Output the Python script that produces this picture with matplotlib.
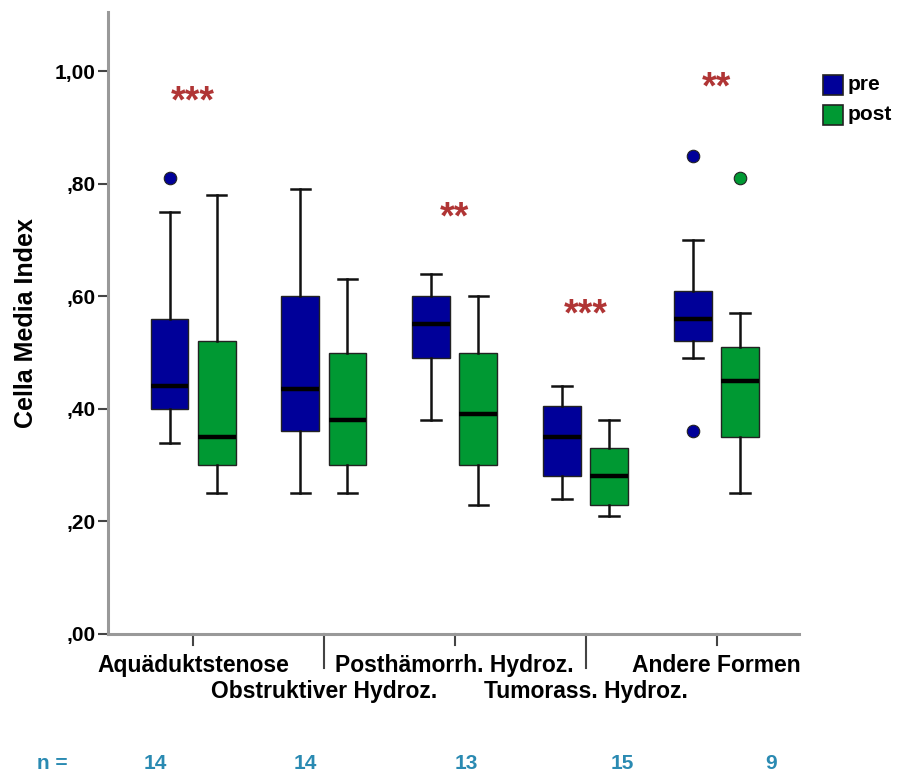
import matplotlib
matplotlib.use("Agg")
import matplotlib.pyplot as plt
from matplotlib import font_manager
from matplotlib.patches import Rectangle

# Schriften
names = {f.name for f in font_manager.fontManager.ttflist}
narrow = "Liberation Sans Narrow" if "Liberation Sans Narrow" in names else "Liberation Sans"
plt.rcParams['font.family'] = ['Liberation Sans', 'DejaVu Sans']

# Daten
gruppen = ["Aquäduktstenose", "Obstruktiver Hydroz.", "Posthämorrh. Hydroz.",
           "Tumorass. Hydroz.", "Andere Formen"]
n_werte = [14, 14, 13, 15, 9]

pre_whislo = [0.34, 0.25, 0.38, 0.24, 0.49]
pre_q1 = [0.40, 0.36, 0.49, 0.28, 0.52]
pre_med = [0.44, 0.435, 0.55, 0.35, 0.56]
pre_q3 = [0.56, 0.60, 0.60, 0.405, 0.61]
pre_whishi = [0.75, 0.79, 0.64, 0.44, 0.70]
pre_ausreisser = [[0.81], [], [], [], [0.85, 0.36]]

post_whislo = [0.25, 0.25, 0.23, 0.21, 0.25]
post_q1 = [0.30, 0.30, 0.30, 0.23, 0.35]
post_med = [0.35, 0.38, 0.39, 0.28, 0.45]
post_q3 = [0.52, 0.50, 0.50, 0.33, 0.51]
post_whishi = [0.78, 0.63, 0.60, 0.38, 0.57]
post_ausreisser = [[], [], [], [], [0.81]]

sterne = ["***", "", "**", "***", "**"]
stern_y = [0.945, 0, 0.738, 0.565, 0.97]

farbe_pre = "#000099"
farbe_post = "#009933"

def stats(lo, q1, med, q3, hi, fl):
    return [dict(whislo=lo[i], q1=q1[i], med=med[i], q3=q3[i], whishi=hi[i], fliers=fl[i])
            for i in range(len(lo))]

W, H = 898, 776
fig = plt.figure(figsize=(W / 100, H / 100), dpi=100)
ax = fig.add_axes([108 / W, 1 - 634 / H, (799 - 108) / W, (634 - 12) / H])

pos = list(range(1, 6))
for st, off, col in [(stats(pre_whislo, pre_q1, pre_med, pre_q3, pre_whishi, pre_ausreisser), -0.18, farbe_pre),
                     (stats(post_whislo, post_q1, post_med, post_q3, post_whishi, post_ausreisser), 0.18, farbe_post)]:
    ax.bxp(st, positions=[p + off for p in pos], widths=0.29, capwidths=0.15,
           patch_artist=True, manage_ticks=False,
           boxprops=dict(facecolor=col, edgecolor="#222222", linewidth=1.0),
           medianprops=dict(color="black", linewidth=3.2, solid_capstyle="butt"),
           whiskerprops=dict(color="#111111", linewidth=1.8),
           capprops=dict(color="#111111", linewidth=1.8),
           flierprops=dict(marker="o", markersize=9, markerfacecolor=col,
                           markeredgecolor="#222222", markeredgewidth=0.8))

for i, s in enumerate(sterne):
    if s:
        ax.text(pos[i], stern_y[i], s, ha="center", va="center", color="#b03535",
                fontsize=27, fontweight="bold")

ax.set_xlim(0.35, 5.63)
ax.set_ylim(0, 1.105)
ax.set_yticks([0, 0.2, 0.4, 0.6, 0.8, 1.0])
ax.set_yticklabels([",00", ",20", ",40", ",60", ",80", "1,00"], fontsize=15, fontweight="bold")
ax.set_ylabel("Cella Media Index", fontsize=18, fontweight="bold", labelpad=12)
ax.tick_params(axis="y", length=7, width=1.5, color="#444444", pad=2)

for side in ["top", "right"]:
    ax.spines[side].set_visible(False)
for side in ["left", "bottom"]:
    ax.spines[side].set_color("#999999")
    ax.spines[side].set_linewidth(2.2)

# x-Achse: kurze Striche fuer Zeile 1, lange fuer Zeile 2
ax.set_xticks(pos)
ax.set_xticklabels([])
ax.tick_params(axis="x", length=0)
for i, p in enumerate(pos):
    lang = 34 if i % 2 else 11
    ax.plot([p, p], [0, -lang / 563], color="#444444", lw=1.5, clip_on=False)
    y_txt = 1 - (672 if i % 2 == 0 else 698) / H
    x_txt = ax.transData.transform((p, 0))[0] / W
    fig.text(x_txt, y_txt, gruppen[i], ha="center", va="baseline", fontsize=16.5,
             fontweight="bold", family=[narrow, "DejaVu Sans"])

# n-Zeile
fig.text(37 / W, 1 - 769 / H, "n =", ha="left", va="baseline", fontsize=15,
         fontweight="bold", color="#2a8ab2", family=[narrow, "DejaVu Sans"])
for x, n in zip([155, 305, 466, 622, 771], n_werte):
    fig.text(x / W, 1 - 769 / H, str(n), ha="center", va="baseline", fontsize=15,
             fontweight="bold", color="#2a8ab2", family=[narrow, "DejaVu Sans"])

# Legende
for k, (lab, col) in enumerate([("pre", farbe_pre), ("post", farbe_post)]):
    y0 = 75 + 30 * k
    fig.patches.append(Rectangle((823 / W, 1 - (y0 + 20) / H), 20 / W, 20 / H,
                                 transform=fig.transFigure, facecolor=col,
                                 edgecolor="#222222", linewidth=1.2))
    fig.text(848 / W, 1 - (y0 + 10) / H, lab, ha="left", va="center",
             fontsize=15, fontweight="bold")

fig.savefig("out.png", dpi=100)
